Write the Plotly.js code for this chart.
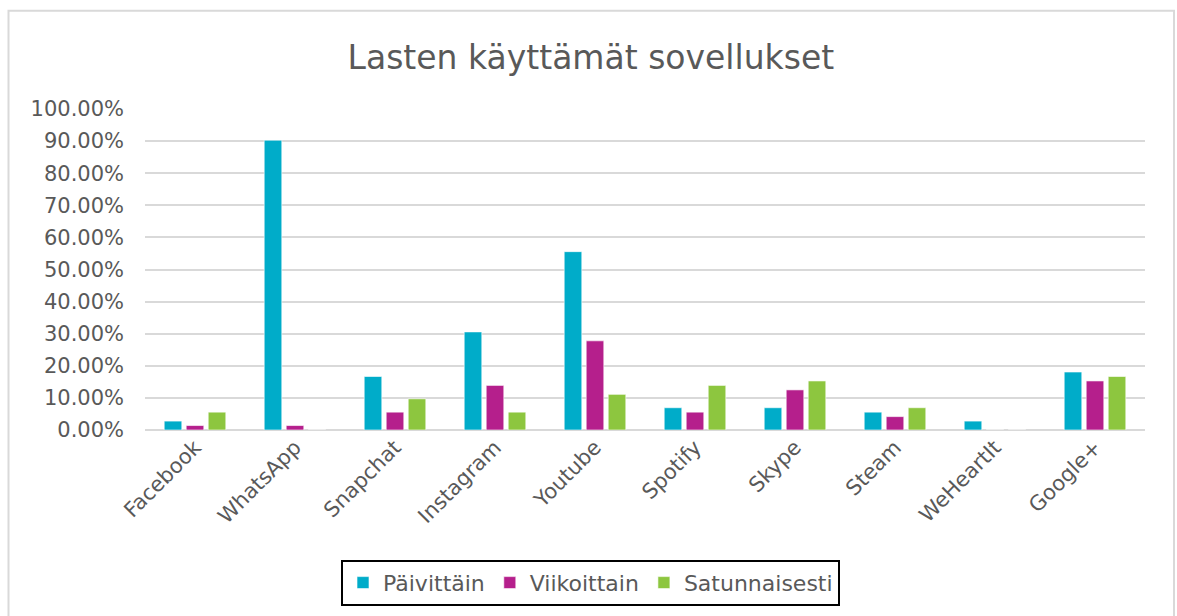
<!DOCTYPE html>
<html>
<head>
<meta charset="utf-8">
<script src="https://cdn.plot.ly/plotly-3.0.1.min.js"></script>
<style>html,body{margin:0;padding:0;background:#fff;}#chart{width:1177px;height:616px;}</style>
</head>
<body>
<div id="chart"></div>
<script>
const categories = ["Facebook","WhatsApp","Snapchat","Instagram","Youtube","Spotify","Skype","Steam","WeHeartIt","Google+"];
const paivittain = [0.0278,0.9028,0.1667,0.3056,0.5556,0.0694,0.0694,0.0556,0.0278,0.1806];
const viikoittain = [0.0139,0.0139,0.0556,0.1389,0.2778,0.0556,0.125,0.0417,0,0.1528];
const satunnaisesti = [0.0556,0,0.0972,0.0556,0.1111,0.1389,0.1528,0.0694,0,0.1667];
const seriesNames = ["Päivittäin","Viikoittain","Satunnaisesti"];
const colors = ["#00acc9","#b51f8c","#8dc63f"];

const font = "DejaVu Sans, Verdana, sans-serif";
const vals = [paivittain, viikoittain, satunnaisesti];
const data = vals.map((v,i)=>({
  type:'bar', x:categories, y:v, name:seriesNames[i],
  marker:{color:colors[i], line:{color:'rgba(255,255,255,0.6)', width:1}},
  hoverinfo:'x+y'
}));

const layout = {
  width:1177, height:616,
  margin:{l:145, r:32, t:109, b:185},
  paper_bgcolor:'#fff', plot_bgcolor:'#fff',
  font:{family:font, color:'#595959'},
  title:{text:'Lasten käyttämät sovellukset', font:{family:font, size:33, color:'#595959'}, x:0.502, xanchor:'center', y:0.907, yanchor:'middle'},
  barmode:'group', bargap:0.34, bargroupgap:0.2,
  xaxis:{type:'category', tickangle:-45, tickfont:{family:font, size:21, color:'#595959'}, showgrid:false, zeroline:false, showline:false, ticks:'', automargin:false},
  yaxis:{range:[0,1], dtick:0.1, tickformat:'.2%', tickfont:{family:font, size:21, color:'#595959'}, gridcolor:'#d9d9d9', gridwidth:2, zeroline:true, zerolinecolor:'#d9d9d9', zerolinewidth:2, showline:false, ticks:'', ticklabelstandoff:20, automargin:false},
  legend:{orientation:'h', x:0.196, y:-0.4, xanchor:'left', yanchor:'top', bordercolor:'#000', borderwidth:2, bgcolor:'#fff', font:{family:font, size:22, color:'#595959'}, itemwidth:30, traceorder:'normal'},
  shapes:[{type:'rect', xref:'paper', yref:'paper', x0:-0.1365, x1:1.029, y0:-0.7, y1:1.306, line:{color:'#d9d9d9', width:2}, fillcolor:'rgba(0,0,0,0)', layer:'below'}],
  showlegend:true
};
Plotly.newPlot('chart', data, layout, {displayModeBar:false, staticPlot:true});
</script>
</body>
</html>
